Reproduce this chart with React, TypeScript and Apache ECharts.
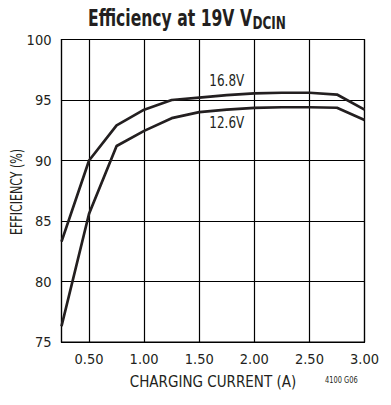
import React, { useEffect, useRef } from "react";
import * as echarts from "echarts";

const currents = [0.25, 0.5, 0.75, 1.0, 1.25, 1.5, 1.75, 2.0, 2.25, 2.5, 2.75, 3.0];
const eff168 = [83.3, 90.0, 92.9, 94.2, 95.0, 95.2, 95.4, 95.55, 95.6, 95.6, 95.45, 94.2];
const eff126 = [76.3, 85.6, 91.2, 92.45, 93.5, 94.0, 94.2, 94.35, 94.4, 94.4, 94.36, 93.35];
const xTicks = [0.5, 1.0, 1.5, 2.0, 2.5, 3.0];
const seriesNames = ["16.8V", "12.6V"];
const labelAtIndex = 6;

const FONT = "'DejaVu Sans Condensed', 'DejaVu Sans', sans-serif";
const INK = "#231f20";

export default function App() {
  const ref = useRef<HTMLDivElement>(null);
  useEffect(() => {
    if (!ref.current) return;
    const chart = echarts.init(ref.current, null, { renderer: "svg" });
    const mk = (vals: number[], name: string) => ({
      type: "line",
      name,
      data: currents.map((c, i) => [c, vals[i]]),
      symbol: "none",
      lineStyle: { color: INK, width: 2.7 },
      silent: true,
    });
    chart.setOption({
      animation: false,
      textStyle: { fontFamily: FONT },
      grid: {
        left: 61.5,
        right: 26.5,
        top: 39.5,
        bottom: 63,
        show: true,
        borderColor: "#000",
        borderWidth: 1.2,
        outerBoundsMode: "none",
        containLabel: false,
      },
      xAxis: {
        type: "value",
        min: 0.25,
        max: 3,
        name: "CHARGING CURRENT (A)",
        nameLocation: "middle",
        nameGap: 32,
        nameTextStyle: { fontFamily: FONT, fontSize: 15, color: INK },
        axisLine: { show: true, lineStyle: { color: "#000", width: 1.2 } },
        axisTick: { show: false, customValues: xTicks },
        axisLabel: {
          customValues: xTicks,
          formatter: (v: number) => v.toFixed(2),
          fontFamily: FONT,
          fontSize: 14.5,
          color: INK,
          margin: 9,
        },
        splitLine: { show: true, lineStyle: { color: "#000", width: 1.2 } },
      },
      yAxis: {
        type: "value",
        min: 75,
        max: 100,
        interval: 5,
        axisLine: { show: true, lineStyle: { color: "#000", width: 1.2 } },
        axisTick: { show: false },
        axisLabel: { fontFamily: FONT, fontSize: 14.5, color: INK, margin: 10 },
        splitLine: { show: true, lineStyle: { color: "#000", width: 1.2 } },
      },
      series: [mk(eff168, seriesNames[0]), mk(eff126, seriesNames[1])],
    });

    const p1 = chart.convertToPixel({ gridIndex: 0 }, [currents[labelAtIndex], eff168[labelAtIndex]]) as number[];
    const p2 = chart.convertToPixel({ gridIndex: 0 }, [currents[labelAtIndex], eff126[labelAtIndex]]) as number[];

    chart.setOption({
      graphic: [
        {
          type: "text",
          x: 88,
          y: 18.5,
          scaleX: 0.755,
          style: {
            text: "Efficiency at 19V V",
            fontFamily: FONT,
            fontWeight: "bold",
            fontSize: 23,
            fill: INK,
            verticalAlign: "middle",
            align: "left",
          },
        },
        {
          type: "text",
          x: 252.5,
          y: 23.2,
          scaleX: 0.79,
          style: {
            text: "DCIN",
            fontFamily: FONT,
            fontWeight: "bold",
            fontSize: 17,
            fill: INK,
            verticalAlign: "middle",
            align: "left",
          },
        },
        {
          type: "text",
          x: 16.5,
          y: 192,
          rotation: Math.PI / 2,
          scaleX: 0.82,
          style: {
            text: "EFFICIENCY (%)",
            fontFamily: FONT,
            fontSize: 15,
            fill: INK,
            align: "center",
            verticalAlign: "middle",
          },
        },
        {
          type: "text",
          x: p1[0],
          y: p1[1] - 14.5,
          scaleX: 0.89,
          style: {
            text: seriesNames[0],
            fontFamily: FONT,
            fontSize: 15,
            fill: INK,
            align: "center",
            verticalAlign: "middle",
          },
        },
        {
          type: "text",
          x: p2[0],
          y: p2[1] + 13.5,
          scaleX: 0.89,
          style: {
            text: seriesNames[1],
            fontFamily: FONT,
            fontSize: 15,
            fill: INK,
            align: "center",
            verticalAlign: "middle",
          },
        },
        {
          type: "text",
          x: 325,
          y: 380,
          scaleX: 0.78,
          style: {
            text: "4100 G06",
            fontFamily: FONT,
            fontSize: 9.5,
            fill: INK,
            align: "left",
            verticalAlign: "middle",
          },
        },
      ],
    });
    return () => chart.dispose();
  }, []);
  return (
    <div
      ref={ref}
      style={{ position: "fixed", left: 0, top: 0, width: 391, height: 405, background: "#fff" }}
    />
  );
}
